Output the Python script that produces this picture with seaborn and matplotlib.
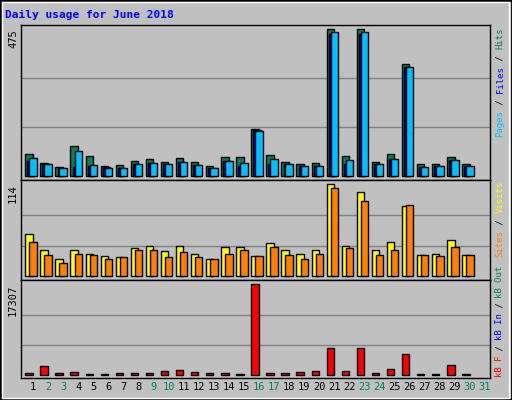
import numpy as np
import pandas as pd
import seaborn as sns
import matplotlib
matplotlib.use("Agg")
import matplotlib.pyplot as plt
from matplotlib.patches import Rectangle

days = list(range(1, 32))
hits = [71,41,29,97,65,32,36,49,55,45,58,45,32,62,62,152,68,45,39,42,475,65,475,45,71,363,39,39,62,39,0]
files = [48,38,25,30,32,28,25,38,41,38,44,35,25,48,32,148,38,38,31,31,460,38,460,38,54,352,28,31,51,31,0]
pages = [58,38,25,81,35,25,25,38,41,38,44,35,25,48,41,145,54,38,31,31,465,51,465,38,54,352,28,31,51,31,0]
visits = [52,33,21,32,28,25,24,35,37,31,37,28,21,36,36,25,41,33,28,32,114,38,104,32,42,87,26,27,45,26,0]
sites = [43,26,17,27,26,21,24,32,32,24,30,24,21,28,32,25,36,26,21,27,110,35,93,26,33,88,26,25,36,26,0]
kbytes = [380,1712,380,570,190,190,380,380,380,760,950,570,380,380,190,17307,380,380,570,760,5135,760,5135,380,1141,3994,190,190,1902,190,0]
weekend = [2,3,9,10,16,17,23,24,30,31]

BG = "#C0C0C0"
sns.set_theme(style="white", rc={"axes.facecolor": BG, "figure.facecolor": BG})
plt.rcParams['font.family'] = ['DejaVu Sans Mono']

fig = plt.figure(figsize=(5.12, 4.0), dpi=100)
fig.patches.append(Rectangle((0, 0), 1, 1, transform=fig.transFigure, fill=False, ec="black", lw=2))
fig.patches.append(Rectangle((0.004, 0.006), 0.99, 0.99, transform=fig.transFigure, fill=False, ec="white", lw=1))

L, W = 21/512, 469/512
ax1 = fig.add_axes([L, 1-180/400, W, 155.3/400])
ax2 = fig.add_axes([L, 1-280/400, W, 100/400])
ax3 = fig.add_axes([L, 1-378/400, W, 98/400])

def bars(ax, off, vals, color, w=0.49):
    df = pd.DataFrame({"x": np.array(days, dtype=float) + off, "y": vals})
    df = df[df["y"] > 0]
    sns.barplot(data=df, x="x", y="y", native_scale=True, width=w, color=color,
                edgecolor="black", linewidth=1, saturation=1, ax=ax)

bars(ax1, -0.27, hits, "#00805C")
bars(ax1, -0.13, files, "#0000FF")
bars(ax1, 0.0, pages, "#00C0FF")
bars(ax2, -0.27, visits, "#FFFF00")
bars(ax2, 0.0, sites, "#FF8000")
bars(ax3, -0.27, kbytes, "#FF0000")

lims = [(ax1, 475, -13, 490), (ax2, 114, -4.6, 119.3), (ax3, 17307, -513, 18125)]
for ax, mx, lo, hi in lims:
    ax.set_ylim(lo, hi)
    ax.set_xlim(0.2, 31.33)
    for f in (1/3, 2/3):
        ax.axhline(mx*f, color="#808080", lw=1, zorder=0)
    ax.set_yticks([])
    ax.set_ylabel("")
    ax.set_xlabel("")
    for s in ax.spines.values():
        s.set_color("black"); s.set_linewidth(1)
    ax.tick_params(length=0)
    ax.text(-0.006, (mx-lo)/(hi-lo), str(mx), transform=ax.transAxes, rotation=90,
            ha="right", va="top", fontsize=7.5, color="black")
for ax in (ax1, ax2):
    ax.set_xticks([])
ax3.set_xticks(days)
ax3.set_xticklabels([str(x) for x in days], fontsize=7.5)
for lbl, dd in zip(ax3.get_xticklabels(), days):
    lbl.set_color("#00805C" if dd in weekend else "black")
ax3.tick_params(axis="x", pad=3)

fig.text(5/512, 1-15/400, "Daily usage for June 2018", fontsize=8, fontweight="bold",
         color="#0000FF", va="center")

def side(parts, ybottom, step=5.5):
    y = ybottom
    for txt, col in parts:
        fig.text(500/512, 1-y/400, txt, rotation=90, ha="center", va="bottom",
                 fontsize=6.5, color=col)
        y -= len(txt)*step
side([("Pages", "#00C0FF"), (" / ", "black"), ("Files", "#0000FF"), (" / ", "black"), ("Hits", "#00805C")], 137)
side([("Sites", "#FF8000"), (" / ", "black"), ("Visits", "#FFFF00")], 257)
side([("kB F", "#FF0000"), (" / ", "black"), ("kB In", "#0000FF"), (" / ", "black"), ("kB Out", "#00805C")], 377, step=5.3)

fig.savefig("out.png", dpi=100, facecolor=BG)
